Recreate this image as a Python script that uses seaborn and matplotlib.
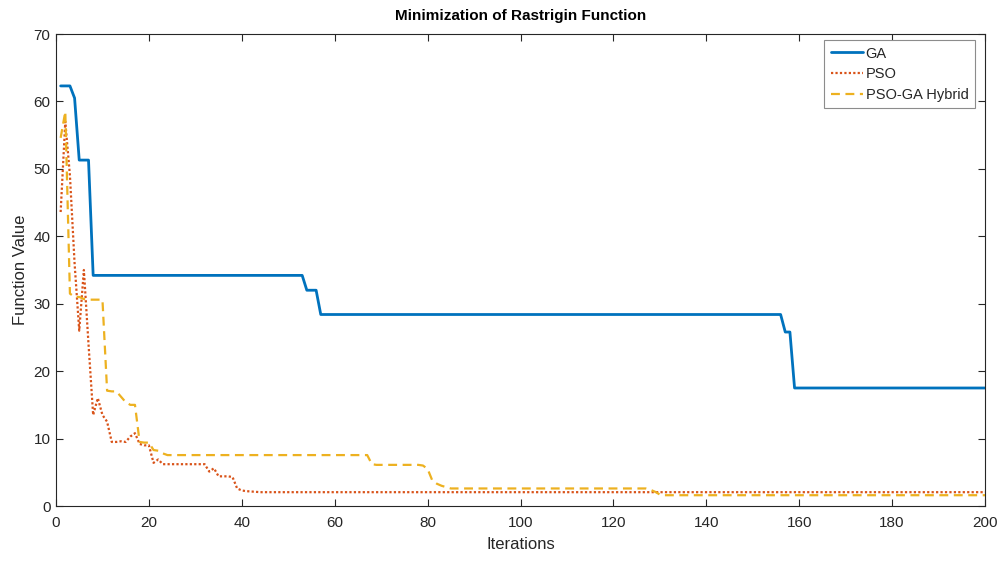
import numpy as np
import pandas as pd
import matplotlib
matplotlib.use("Agg")
import matplotlib.pyplot as plt
import seaborn as sns

# ---- data (run-length encoded step values) ----
ga_values = [62.3, 60.5, 51.3, 34.2, 32.0, 28.4, 25.8, 17.5]
ga_counts = [3, 1, 3, 46, 3, 100, 2, 42]

pso_values = [43.6, 57.0, 49.0, 36.0, 26.0, 35.0, 24.0, 13.5, 16.0, 13.5, 12.5,
              9.5, 9.6, 9.5, 10.3, 10.8, 9.2, 9.0, 6.4, 6.9, 6.2, 5.1, 5.6, 4.4,
              4.3, 2.6, 2.3, 2.2, 2.15, 2.1, 2.05]
pso_counts = [1, 1, 1, 1, 1, 1, 1, 1, 1, 1, 1,
              2, 1, 1, 1, 1, 1, 2, 1, 1, 10, 1, 1, 3,
              1, 1, 1, 1, 1, 1, 157]

hyb_values = [54.6, 58.5, 31.5, 31.0, 30.7, 30.6, 17.1, 17.0, 16.2, 15.4, 15.0,
              9.5, 9.4, 8.3, 8.2, 7.8, 7.55, 6.2, 6.1, 6.0, 5.5, 3.8, 3.3, 3.0,
              2.8, 2.6, 2.4, 2.1, 1.7, 1.6]
hyb_counts = [1, 1, 1, 2, 1, 4, 1, 2, 1, 1, 2,
              1, 2, 1, 1, 1, 44, 1, 10, 1, 1, 1, 1, 1,
              1, 43, 1, 1, 1, 70]

series_names = ["GA", "PSO", "PSO-GA Hybrid"]
x_ticks = [0, 20, 40, 60, 80, 100, 120, 140, 160, 180, 200]
y_ticks = [0, 10, 20, 30, 40, 50, 60, 70]

ga = np.repeat(ga_values, ga_counts)
pso = np.repeat(pso_values, pso_counts)
hyb = np.repeat(hyb_values, hyb_counts)
iters = np.arange(1, 201)

df = pd.DataFrame({
    "Iterations": np.concatenate([iters, iters, iters]),
    "Function Value": np.concatenate([ga, pso, hyb]),
    "Method": np.repeat(series_names, 200),
})

sns.set_theme(style="ticks")
plt.rcParams["font.family"] = ["Liberation Sans", "DejaVu Sans"]

fig = plt.figure(figsize=(10.01, 5.61), dpi=100)
ax = fig.add_axes([56 / 1001, 1 - 506 / 561, (985 - 56) / 1001, (506 - 34) / 561])

styles = {
    "GA": dict(color="#0072BD", lw=2.0, ls="-"),
    "PSO": dict(color="#D95319", lw=1.6, ls=(0, (1, 1))),
    "PSO-GA Hybrid": dict(color="#EDB120", lw=1.6, ls=(0, (4, 2.5))),
}
for name in series_names:
    sub = df[df["Method"] == name]
    st = styles[name]
    sns.lineplot(data=sub, x="Iterations", y="Function Value", ax=ax,
                 color=st["color"], linewidth=st["lw"], linestyle=st["ls"],
                 label=name)

ax.set_xlim(0, 200)
ax.set_ylim(0, 70)
ax.set_xticks(x_ticks)
ax.set_yticks(y_ticks)
ax.tick_params(direction="in", top=True, right=True, length=5, width=0.8,
               labelsize=11, colors="#262626")
ax.tick_params(axis="x", pad=7)
ax.tick_params(axis="y", pad=4)
for sp in ax.spines.values():
    sp.set_visible(True)
    sp.set_color("#262626")
    sp.set_linewidth(0.8)
ax.set_xlabel("Iterations", fontsize=12, color="#262626", labelpad=5)
ax.set_ylabel("Function Value", fontsize=12, color="#262626", labelpad=4)
ax.set_title("Minimization of Rastrigin Function", fontsize=11, fontweight="bold",
             color="black", pad=10)

leg = ax.legend(loc="upper right",
                bbox_to_anchor=((975 - 56) / 929, (506 - 40) / 472),
                borderaxespad=0,
                fontsize=10.5, frameon=True, fancybox=False,
                edgecolor="#8c8c8c", framealpha=1, handlelength=2.2,
                labelspacing=0.45, handletextpad=0.2, borderpad=0.45)
leg.get_frame().set_linewidth(0.8)

fig.savefig("out.png", dpi=100)
